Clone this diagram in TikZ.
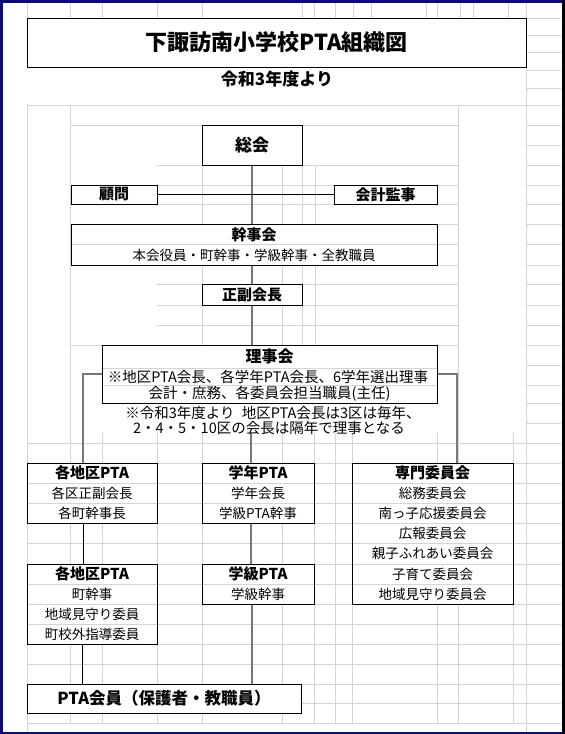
\documentclass[tikz,border=0pt]{standalone}
\usepackage{fontspec}
\setmainfont{Noto Sans CJK JP}
\definecolor{gridc}{RGB}{212,212,212}
\definecolor{connc}{RGB}{120,120,120}
\definecolor{framec}{RGB}{12,12,120}
\begin{document}
\begin{tikzpicture}[x=1pt,y=-1pt,
  gl/.style={draw=gridc, line width=0.8pt},
  box/.style={draw=black, line width=1pt, inner sep=0pt, outer sep=0pt},
  wipe/.style={fill=white, draw=none},
  conn/.style={draw=connc, line width=1.6pt},
  connk/.style={draw=black, line width=0.9pt},
  hd/.style={font=\bfseries\fontsize{15}{16}\selectfont, inner sep=0pt},
  tx/.style={font=\fontsize{13.5}{16}\selectfont, inner sep=0pt}]
\fill[white] (0,0) rectangle (565,734);
\useasboundingbox (0,0) rectangle (565,734);
% ---------- spreadsheet gridlines ----------
\foreach \x in {27,70,102,157,202,302,314,335,353,371,426,437,460,473,508}
  \draw[gl] (\x,0) -- (\x,18);
\draw[gl] (27,0) -- (27,734);
\draw[gl] (526,0) -- (526,734);
\foreach \y in {18,35,52,70,88,105,125,145,165,185,204,224,244,265,284,305,325,345,365,385,403,423,443,463,483,503,523,543,564,584,604,624,644,664,684,703,723}
  \draw[gl] (526,\y) -- (561,\y);
\foreach \x in {70,458} \draw[gl] (\x,105) -- (\x,463);
\draw[gl] (27,105) -- (526,105);
\draw[gl] (70,125) -- (458,125);
\foreach \y in {165,185,204,224,265,284,305,325,345} \draw[gl] (157,\y) -- (458,\y);
\foreach \x in {202,282,302,315} \draw[gl] (\x,165) -- (\x,224);
\foreach \x in {202,282,302,315} \draw[gl] (\x,265) -- (\x,345);
\draw[gl] (437,244) -- (458,244);
\draw[gl] (70,345) -- (102,345);
\foreach \y in {443,463,483,503,523,543,564,584,604,624,644,664,684,703,723} \draw[gl] (27,\y) -- (526,\y);
\foreach \x in {70,102,157,202,282,314,335,352,437,458,513} \draw[gl] (\x,433) -- (\x,723);
% ---------- title ----------
\fill[wipe] (27,18) rectangle (526,104);
\node[box, minimum width=499pt, minimum height=49pt, fill=white] (title) at (276.5,42.5) {};
\node[font=\bfseries\fontsize{22}{24}\selectfont, inner sep=0pt] (titleT) at (title.center) {下諏訪南小学校PTA組織図};
\node[font=\bfseries\fontsize{17}{19}\selectfont, inner sep=0pt] (sub) at (277,79) {令和3年度より};
% ---------- boxes ----------
\node[box, fill=white, minimum width=100pt, minimum height=40pt] (soukai) at (252,145) {};
\node[font=\bfseries\fontsize{17}{19}\selectfont, inner sep=0pt] (soukaiT) at (soukai.center) {総会};
\node[box, fill=white, minimum width=86pt, minimum height=19pt] (komon) at (114,194.5) {};
\node[hd] (komonT) at (komon.center) {顧問};
\node[box, fill=white, minimum width=103pt, minimum height=19pt] (kansa) at (385.5,194.5) {};
\node[hd] (kansaT) at (kansa.center) {会計監事};
\node[box, fill=white, minimum width=366pt, minimum height=41pt] (kanji) at (254,244.5) {};
\draw[gl] (kanji.west |- 0,244) -- (kanji.east |- 0,244);
\node[hd] (kanjiT1) at (254,234.5) {幹事会};
\node[tx] (kanjiT2) at (254,255) {本会役員・町幹事・学級幹事・全教職員};
\node[box, fill=white, minimum width=100pt, minimum height=21pt] (fuku) at (252,294.5) {};
\node[hd] (fukuT) at (fuku.center) {正副会長};
% connectors (drawn under the note)
\coordinate (cC1) at (251,403);
\coordinate (cC2) at (251,463);
\draw[conn] (cC1) -- (cC2);
\node[box, fill=white, minimum width=335pt, minimum height=58pt] (riji) at (269.5,374) {};
\draw[gl] (102.5,368) -- (436.5,368);
\draw[gl] (102.5,385) -- (436.5,385);
\node[font=\bfseries\fontsize{16}{17}\selectfont, inner sep=0pt] (rijiT1) at (269.5,356) {理事会};
\node[tx, font=\fontsize{14.5}{16}\selectfont] (rijiT2) at (268,376.5) {※地区PTA会長、各学年PTA会長、6学年選出理事};
\node[tx, font=\fontsize{14.5}{16}\selectfont] (rijiT3) at (269.5,394) {会計・庶務、各委員会担当職員(主任)};
\node[fill=white, minimum width=335pt, minimum height=29pt, inner sep=0pt] (note) at (270,418.5) {};
\node[tx, font=\fontsize{14.5}{16}\selectfont] (noteT1) at (273,413) {※令和3年度より\enspace 地区PTA会長は3区は毎年、};
\node[tx, font=\fontsize{14.5}{16}\selectfont] (noteT2) at (269,428) {2・4・5・10区の会長は隔年で理事となる};
% lower boxes
\node[box, fill=white, minimum width=130pt, minimum height=60pt] (chikuA) at (92,493) {};
\draw[gl] (27.5,483) -- (156.5,483); \draw[gl] (27.5,503) -- (156.5,503);
\node[hd] (chikuA1) at (92,473) {各地区PTA};
\node[tx] (chikuA2) at (92,493) {各区正副会長};
\node[tx] (chikuA3) at (92,513) {各町幹事長};
\node[box, fill=white, minimum width=112pt, minimum height=60pt] (gakunen) at (258,493) {};
\draw[gl] (202.5,483) -- (313.5,483); \draw[gl] (202.5,503) -- (313.5,503);
\node[hd] (gakunen1) at (258,473) {学年PTA};
\node[tx] (gakunen2) at (258,493) {学年会長};
\node[tx] (gakunen3) at (258,513) {学級PTA幹事};
\node[box, fill=white, minimum width=161pt, minimum height=141pt] (senmon) at (432.5,533.5) {};
\foreach \y in {483,503,523,543,564,584} \draw[gl] (352.5,\y) -- (512.5,\y);
\node[hd] (sen1) at (432.5,473) {専門委員会};
\node[tx] (sen2) at (432.5,493) {総務委員会};
\node[tx] (sen3) at (432.5,513) {南っ子応援委員会};
\node[tx] (sen4) at (432.5,533) {広報委員会};
\node[tx] (sen5) at (432.5,553.5) {親子ふれあい委員会};
\node[tx] (sen6) at (432.5,574) {子育て委員会};
\node[tx] (sen7) at (432.5,594) {地域見守り委員会};
\node[box, fill=white, minimum width=130pt, minimum height=80pt] (chikuB) at (92,604) {};
\foreach \y in {584,604,624} \draw[gl] (27.5,\y) -- (156.5,\y);
\node[hd] (chikuB1) at (92,574) {各地区PTA};
\node[tx] (chikuB2) at (92,594) {町幹事};
\node[tx] (chikuB3) at (92,614) {地域見守り委員};
\node[tx] (chikuB4) at (92,634) {町校外指導委員};
\node[box, fill=white, minimum width=112pt, minimum height=40pt] (gakkyu) at (258,584) {};
\draw[gl] (202.5,584) -- (313.5,584);
\node[hd] (gakkyu1) at (258,574) {学級PTA};
\node[tx] (gakkyu2) at (258,594) {学級幹事};
\node[box, fill=white, minimum width=274pt, minimum height=29pt] (member) at (164,698.5) {};
\node[font=\bfseries\fontsize{16.5}{18}\selectfont, inner sep=0pt] (memberT) at (164,698.5) {PTA会員（保護者・教職員）};
% ---------- connectors ----------
\draw[conn] (soukai.south) -- (soukai.south |- kanji.north);
\draw[connk] (komon.east) -- (kansa.west);
\draw[conn] (fuku.north |- kanji.south) -- (fuku.north);
\draw[conn] (fuku.south) -- (fuku.south |- riji.north);
\coordinate (cL) at (83,463);
\coordinate (cR) at (457,463);
\draw[conn] (riji.west) -| (cL);
\draw[conn] (riji.east) -| (cR);
\coordinate (cA1) at (83,523);
\coordinate (cA2) at (83,564);
\draw[connk] (cA1) -- (cA2);
\coordinate (cG1) at (251,523);
\coordinate (cG2) at (251,564);
\draw[conn] (cG1) -- (cG2);
\coordinate (cB1) at (82,644);
\coordinate (cB2) at (82,684);
\draw[connk] (cB1) -- (cB2);
\coordinate (cK1) at (252,604);
\coordinate (cK2) at (252,684);
\draw[conn] (cK1) -- (cK2);
% redraw box outlines on top
\foreach \n in {title,soukai,komon,kansa,kanji,fuku,riji,chikuA,gakunen,senmon,chikuB,gakkyu,member}
  \draw[line width=1pt] (\n.north west) rectangle (\n.south east);
% ---------- window frame ----------
\fill[framec] (0,0) rectangle (565,2.5);
\fill[framec] (0,0) rectangle (2.5,734);
\fill[framec] (0,731.5) rectangle (565,734);
\fill[black] (561.5,0) rectangle (564.5,734);
\end{tikzpicture}
\end{document}
